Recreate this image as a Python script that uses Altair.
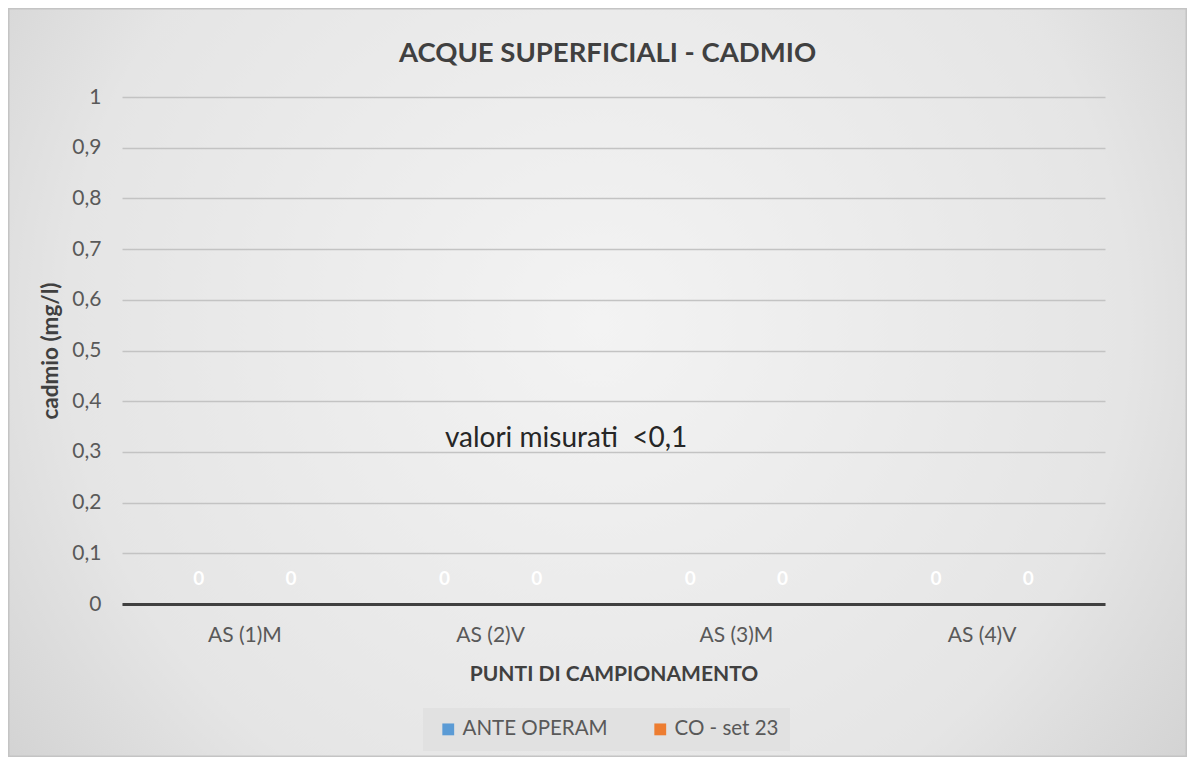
import altair as alt
import pandas as pd

categories = ["AS (1)M", "AS (2)V", "AS (3)M", "AS (4)V"]
series = ["ANTE OPERAM", "CO - set 23"]
ante_operam = [0, 0, 0, 0]
co_set23 = [0, 0, 0, 0]
colors = ["#5b9bd5", "#ed7d31"]
y_ticks = [0, 0.1, 0.2, 0.3, 0.4, 0.5, 0.6, 0.7, 0.8, 0.9, 1.0]
title_text = ["ACQUE SUPERFICIALI - CADMIO"]
note_text = ["valori misurati\u00a0\u00a0<0,1"]
note_y = [0.325]

rows = []
for c, a, b in zip(categories, ante_operam, co_set23):
    rows.append({"cat": c, "serie": series[0], "val": a})
    rows.append({"cat": c, "serie": series[1], "val": b})
df = pd.DataFrame(rows)

W, H = 983, 507
PL, PT, PR, PB = 114, 89, 82, 153
FONT = "Lato"
GREY = "#595959"
DARK = "#404040"

bg = alt.Chart(pd.DataFrame({"k": [0]})).mark_rect(
    fill={
        "gradient": "radial",
        "x1": 0.5, "y1": 0.45, "r1": 0,
        "x2": 0.5, "y2": 0.45, "r2": 0.75,
        "stops": [
            {"offset": 0, "color": "#f3f3f3"},
            {"offset": 0.6, "color": "#e5e5e5"},
            {"offset": 1, "color": "#c6c6c6"},
        ],
    },
    stroke="#c4c4c4",
    strokeWidth=1.5,
).encode(
    x=alt.value(-PL + 0.75), x2=alt.value(W + PR - 0.75),
    y=alt.value(-PT + 0.75), y2=alt.value(H + PB - 0.75),
)

xenc = alt.X("cat:N", sort=categories, title="PUNTI DI CAMPIONAMENTO",
             scale=alt.Scale(paddingInner=0.0, paddingOuter=0.0),
             axis=alt.Axis(labelAngle=0, labelFontSize=21, labelColor=GREY, labelFont=FONT,
                           labelPadding=20, ticks=False, domainColor="#404040", domainWidth=3,
                           titleFontSize=21, titleFont=FONT, titleFontWeight="bold",
                           titleColor=DARK, titlePadding=18, zindex=2))
yenc = alt.Y("val:Q", title="cadmio (mg/l)",
             scale=alt.Scale(domain=[0, 1], nice=False),
             axis=alt.Axis(values=y_ticks,
                           labelExpr="replace(format(datum.value, '.1~f'), '.', ',')",
                           labelFontSize=21, labelColor=GREY, labelFont=FONT, labelPadding=21,
                           ticks=False, domain=False, gridColor="#c3c3c3", gridWidth=1.5,
                           titleFontSize=22.5, titleFont=FONT, titleFontWeight="bold",
                           titleColor=DARK, titlePadding=9, zindex=1))

bars = alt.Chart(df).mark_bar().encode(
    x=xenc, y=yenc,
    xOffset=alt.XOffset("serie:N", sort=series,
                        scale=alt.Scale(paddingInner=0.0, paddingOuter=0.335)),
    color=alt.Color("serie:N", sort=series,
                    scale=alt.Scale(domain=series, range=colors),
                    legend=alt.Legend(title=None, orient="none", direction="horizontal",
                                      legendX=301, legendY=611, symbolType="square",
                                      symbolSize=140, symbolStrokeWidth=0, symbolOffset=4,
                                      labelFontSize=20.5, labelFont=FONT, labelColor=GREY,
                                      labelOffset=4, columnPadding=38, fillColor="#e1e1e1",
                                      padding=11, zindex=2)),
)

labels = alt.Chart(df).mark_text(color="white", fontWeight="bold", fontSize=19, font=FONT,
                                 dy=-25).encode(
    x=alt.X("cat:N", sort=categories),
    xOffset=alt.XOffset("serie:N", sort=series),
    y="val:Q",
    text=alt.Text("val:Q"),
)

note = alt.Chart(pd.DataFrame({"t": note_text, "v": note_y, "cat": [categories[1]]})).mark_text(
    fontSize=28, font=FONT, color="#262626", align="center", baseline="middle", dx=75.5
).encode(x=alt.X("cat:N", sort=categories), y="v:Q", text="t:N")

title = alt.Chart(pd.DataFrame({"t": title_text})).mark_text(
    fontSize=27.5, font=FONT, fontWeight="bold", color=DARK, align="center", baseline="middle"
).encode(x=alt.value(485.5), y=alt.value(-43), text="t:N")

chart = alt.layer(bg, bars, labels, note, title).properties(
    width=W, height=H,
    autosize=alt.AutoSizeParams(type="none"),
    padding={"left": PL, "top": PT, "right": PR, "bottom": PB},
).configure_view(stroke=None).configure(background="white")

chart.save("out.html", embed_options={"renderer": "svg", "actions": False})
